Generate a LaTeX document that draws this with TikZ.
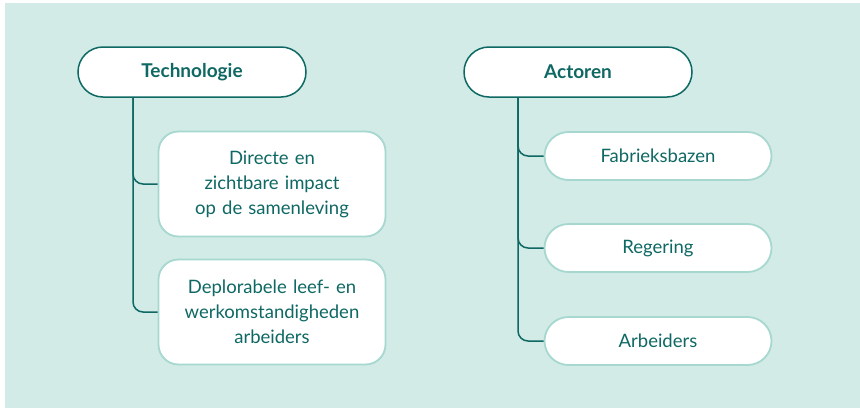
\documentclass[tikz,border=0pt]{standalone}
\usepackage{fontspec}
\setmainfont{Lato}
\usetikzlibrary{shapes,arrows.meta}
\definecolor{BgCol}{RGB}{210,235,230}
\definecolor{DarkCol}{RGB}{14,104,99}
\definecolor{LightCol}{RGB}{166,216,208}
\tikzstyle{head} = [rectangle, rounded corners=25pt, minimum width=228pt, minimum height=50pt, text centered, draw=DarkCol, line width=1.5pt, fill=white, text=DarkCol, font=\fontsize{19}{22}\selectfont\bfseries]
\tikzstyle{leaf} = [rectangle, rounded corners=20pt, minimum width=227pt, minimum height=105pt, text width=215pt, align=center, draw=LightCol, line width=1.8pt, fill=white, text=DarkCol, font=\fontsize{18.5}{25}\selectfont]
\tikzstyle{pill} = [leaf, rounded corners=24pt, minimum height=48pt]
\tikzstyle{conn} = [draw=DarkCol, line width=1.5pt, rounded corners=10pt]

\begin{document}
\begin{tikzpicture}[x=1pt,y=-1pt]
                \useasboundingbox (0,0) rectangle (860,408);
                \fill[BgCol] (5,3) rectangle (860,408);
                % left column
                \node[head] (tech) at (192,72){Technologie};
                \node[leaf] (impact) at (272,184){Directe en\\zichtbare impact\\op de samenleving};
                \node[leaf] (werk) at (272,312){Deplorabele leef- en\\werkomstandigheden\\arbeiders};
                \draw[conn] ([xshift=-59pt]tech.south) |- (impact.west);
                \draw[conn] ([xshift=-59pt]tech.south) |- (werk.west);
                % right column
                \node[head] (actor) at (578,72){Actoren};
                \node[pill] (bazen) at (658,156){Fabrieksbazen};
                \node[pill] (regering) at (658,248){Regering};
                \node[pill] (arbeid) at (658,341){Arbeiders};
                \draw[conn] ([xshift=-60pt]actor.south) |- (bazen.west);
                \draw[conn] ([xshift=-60pt]actor.south) |- (regering.west);
                \draw[conn] ([xshift=-60pt]actor.south) |- (arbeid.west);
             \end{tikzpicture}
\end{document}
